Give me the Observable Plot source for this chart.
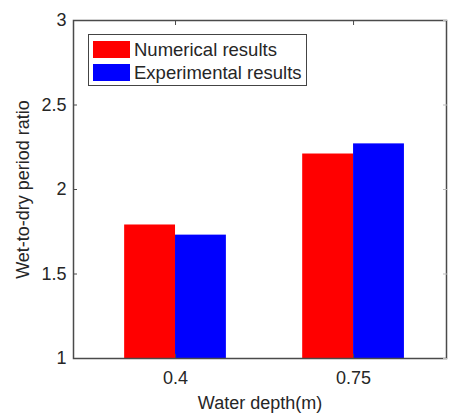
<!DOCTYPE html>
<html>
<head>
<meta charset="utf-8">
<script src="https://cdn.jsdelivr.net/npm/d3@7"></script>
<script src="https://cdn.jsdelivr.net/npm/@observablehq/plot@0.6"></script>
<style>
  body { margin: 0; background: #fff; }
  #wrap { position: relative; width: 449px; height: 414px; font-family: "Liberation Sans", Arial, sans-serif; color: #262626; }
  #legend { position: absolute; left: 88px; top: 34px; width: 219px; height: 52px; border: 1px solid #444; background: #fff; box-sizing: border-box; font-size: 18.5px; }
  .item { position: absolute; left: 4px; height: 17px; display: flex; align-items: center; white-space: nowrap; }
  .sw { width: 37px; height: 17px; margin-right: 4px; }
</style>
</head>
<body>
<div id="wrap"></div>
<script>
const depths = ["0.4", "0.75"];
const seriesNames = ["Numerical results", "Experimental results"];
const numerical = [1.79, 2.21];
const experimental = [1.73, 2.27];
const colors = ["#ff0000", "#0000ff"];
const yTicks = [1, 1.5, 2, 2.5, 3];

// MATLAB-style grouped bar layout
const groupWidth = 2 / 3.5;
const barW = groupWidth / seriesNames.length;
const values = [numerical, experimental];
const rows = [];
depths.forEach((d, i) => {
  seriesNames.forEach((s, j) => {
    const x1 = (i + 1) - groupWidth / 2 + j * barW;
    rows.push({depth: d, series: s, value: values[j][i], x1, x2: x1 + barW});
  });
});

const axisColor = "#4a4a4a";
const chart = Plot.plot({
  width: 449,
  height: 414,
  marginLeft: 73,
  marginRight: 3,
  marginTop: 20,
  marginBottom: 56,
  style: {fontFamily: "Liberation Sans, Arial, sans-serif", fontSize: "18px", color: "#262626", background: "#fff"},
  x: {domain: [0.427, 2.522], axis: null},
  y: {domain: [1, 3], axis: null},
  color: {domain: seriesNames, range: colors},
  marks: [
    Plot.rectY(rows, {x1: "x1", x2: "x2", y1: 1, y2: "value", fill: "series"}),
    Plot.frame({stroke: axisColor, strokeWidth: 1.5}),
    Plot.axisY({anchor: "left", ticks: yTicks, tickFormat: d => String(d), tickSize: -4, tickPadding: 11,
      stroke: axisColor, label: "Wet-to-dry period ratio", labelAnchor: "center", labelOffset: 57, labelArrow: "none"}),
    Plot.axisY({anchor: "right", ticks: yTicks, tickFormat: () => "", tickSize: -4, stroke: "#bbb", label: null}),
    Plot.axisX({anchor: "bottom", ticks: [1, 2], tickFormat: i => depths[i - 1], tickSize: -4, tickPadding: 17,
      stroke: axisColor, label: "Water depth(m)", labelAnchor: "center", labelOffset: 50, labelArrow: "none"}),
    Plot.axisX({anchor: "top", ticks: [1, 2], tickFormat: () => "", tickSize: -4, stroke: axisColor, label: null})
  ]
});

const wrap = document.getElementById("wrap");
wrap.appendChild(chart);
const legend = document.createElement("div");
legend.id = "legend";
seriesNames.forEach((s, j) => {
  const item = document.createElement("div");
  item.className = "item";
  item.style.top = (j === 0 ? 6 : 29) + "px";
  const sw = document.createElement("div");
  sw.className = "sw";
  sw.style.background = colors[j];
  const t = document.createElement("span");
  t.textContent = s;
  item.appendChild(sw);
  item.appendChild(t);
  legend.appendChild(item);
});
wrap.appendChild(legend);
</script>
</body>
</html>
